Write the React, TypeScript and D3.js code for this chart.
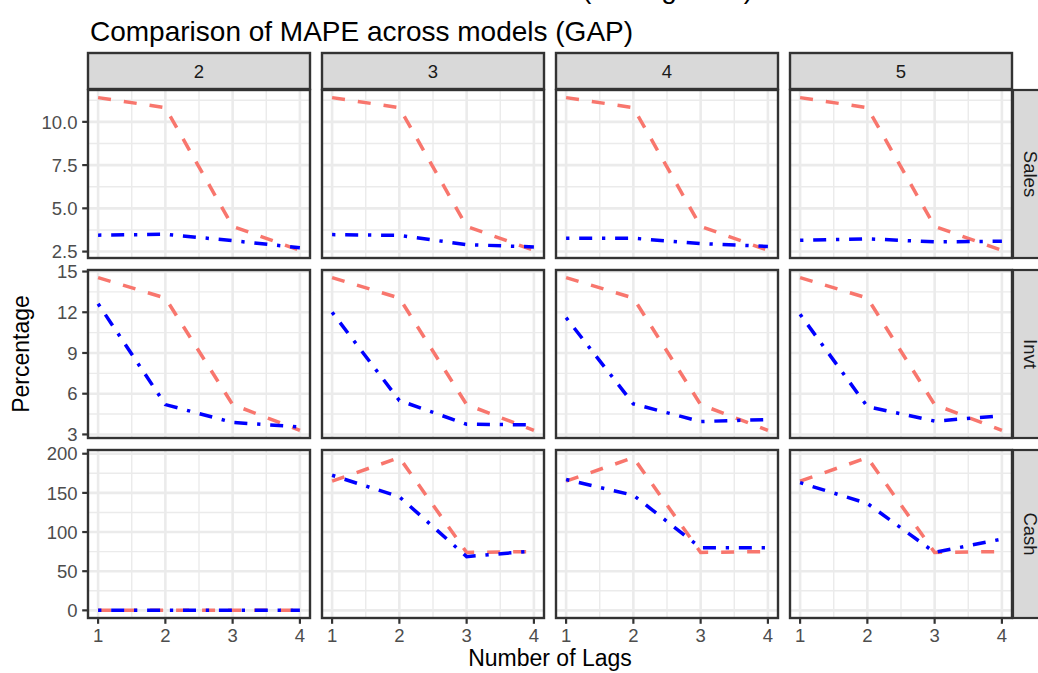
import React from 'react';
import * as d3 from 'd3';

// ---- data ----
const lags = [1, 2, 3, 4];
const lagColumns = ['2', '3', '4', '5'];
const variables = ['Sales', 'Invt', 'Cash'];

// baseline model (red, dashed) – one array per facet column
const salesRed = [
  [11.4, 10.82, 3.96, 2.57],
  [11.4, 10.82, 3.96, 2.57],
  [11.4, 10.82, 3.96, 2.57],
  [11.4, 10.82, 3.96, 2.57],
];
const invtRed = [
  [14.55, 13.05, 5.2, 3.3],
  [14.55, 13.05, 5.2, 3.3],
  [14.55, 13.05, 5.2, 3.3],
  [14.55, 13.05, 5.2, 3.3],
];
const cashRed = [
  [0, 0, 0, 0],
  [165, 195, 74, 75],
  [165, 195, 74, 75],
  [165, 195, 74, 75],
];

// GAP model (blue, dot-dash)
const salesBlue = [
  [3.45, 3.5, 3.13, 2.72],
  [3.48, 3.44, 2.9, 2.77],
  [3.27, 3.27, 2.96, 2.8],
  [3.15, 3.24, 3.06, 3.1],
];
const invtBlue = [
  [12.63, 5.2, 3.88, 3.55],
  [12.0, 5.5, 3.75, 3.7],
  [11.6, 5.25, 3.95, 4.1],
  [11.85, 5.05, 3.98, 4.37],
];
const cashBlue = [
  [0, 0, 0, 0],
  [172.5, 145, 68.6, 76],
  [167, 147, 80, 80],
  [163, 136.5, 74, 91],
];

const salesTicks = [2.5, 5, 7.5, 10];
const invtTicks = [3, 6, 9, 12, 15];
const cashTicks = [0, 50, 100, 150, 200];
const xTicks = [1, 2, 3, 4];

const redByRow = [salesRed, invtRed, cashRed];
const blueByRow = [salesBlue, invtBlue, cashBlue];
const ticksByRow = [salesTicks, invtTicks, cashTicks];
const tickFormatByRow = [(v: number) => v.toFixed(1), (v: number) => String(v), (v: number) => String(v)];

// ---- layout ----
const W = 1038;
const H = 673;
const panelLeft = 88;
const panelW = 222;
const panelGapX = 12;
const panelTop = 90;
const panelH = 168;
const panelGapY = 12;
const stripH = 36;
const FONT = '"Liberation Sans", Arial, Helvetica, sans-serif';
const RED = '#F8766D';
const BLUE = '#0000FF';
const GRID = '#EBEBEB';
const DARK = '#333333';
const TEXT = '#4D4D4D';

function expand(ext: [number, number], mult = 0.05): [number, number] {
  const r = ext[1] - ext[0];
  return [ext[0] - r * mult, ext[1] + r * mult];
}

function minorBreaks(ticks: number[], domain: [number, number]) {
  const step = ticks[1] - ticks[0];
  const out: number[] = [];
  for (let v = ticks[0] - step / 2; v <= ticks[ticks.length - 1] + step / 2 + 1e-9; v += step) {
    if (v >= domain[0] && v <= domain[1]) out.push(v);
  }
  return out;
}

export default function App() {
  const xDomain = expand(d3.extent(lags) as [number, number]);

  const panels: React.ReactNode[] = [];
  const axes: React.ReactNode[] = [];

  variables.forEach((v, ri) => {
    const all = [...redByRow[ri].flat(), ...blueByRow[ri].flat()];
    const yDomain = expand(d3.extent(all) as [number, number]);
    const y0 = panelTop + ri * (panelH + panelGapY);
    const y = d3.scaleLinear().domain(yDomain).range([y0 + panelH, y0]);
    const ticks = ticksByRow[ri];
    const yMinor = minorBreaks(ticks, yDomain);

    // y axis on the first column
    axes.push(
      <g key={'yax' + ri}>
        {ticks.map((t) => (
          <g key={t}>
            <line x1={panelLeft - 5.8} x2={panelLeft} y1={y(t)} y2={y(t)} stroke={DARK} strokeWidth={2.2} />
            <text x={panelLeft - 10.5} y={y(t)} dy="0.36em" textAnchor="end" fontSize={18.5} fill={TEXT} fontFamily={FONT}>
              {tickFormatByRow[ri](t)}
            </text>
          </g>
        ))}
      </g>
    );

    // right strip
    const stripX = panelLeft + 4 * panelW + 3 * panelGapX;
    axes.push(
      <g key={'rs' + ri}>
        <rect x={stripX + 1} y={y0} width={stripH} height={panelH} fill="#D9D9D9" stroke={DARK} strokeWidth={2.2} />
        <text
          transform={`translate(${stripX + 1 + stripH / 2},${y0 + panelH / 2}) rotate(90)`}
          textAnchor="middle"
          dy="0.36em"
          fontSize={18.5}
          fill="#1A1A1A"
          fontFamily={FONT}
        >
          {v}
        </text>
      </g>
    );

    lagColumns.forEach((c, ci) => {
      const x0 = panelLeft + ci * (panelW + panelGapX);
      const x = d3.scaleLinear().domain(xDomain).range([x0, x0 + panelW]);
      const xMinor = minorBreaks(xTicks, xDomain);
      const line = d3
        .line<number>()
        .x((_, i) => x(lags[i]))
        .y((d) => y(d));

      panels.push(
        <g key={`p${ri}-${ci}`}>
          <rect x={x0} y={y0} width={panelW} height={panelH} fill="#FFFFFF" />
          {yMinor.map((t) => (
            <line key={'ym' + t} x1={x0} x2={x0 + panelW} y1={y(t)} y2={y(t)} stroke={GRID} strokeWidth={1.4} />
          ))}
          {xMinor.map((t) => (
            <line key={'xm' + t} x1={x(t)} x2={x(t)} y1={y0} y2={y0 + panelH} stroke={GRID} strokeWidth={1.4} />
          ))}
          {ticks.map((t) => (
            <line key={'yM' + t} x1={x0} x2={x0 + panelW} y1={y(t)} y2={y(t)} stroke={GRID} strokeWidth={2.6} />
          ))}
          {xTicks.map((t) => (
            <line key={'xM' + t} x1={x(t)} x2={x(t)} y1={y0} y2={y0 + panelH} stroke={GRID} strokeWidth={2.6} />
          ))}
          <path d={line(redByRow[ri][ci]) || ''} fill="none" stroke={RED} strokeWidth={3.5} strokeDasharray="13 13" />
          <path d={line(blueByRow[ri][ci]) || ''} fill="none" stroke={BLUE} strokeWidth={3.5} strokeDasharray="3.3 9.8 13 9.8" />
          <rect x={x0} y={y0} width={panelW} height={panelH} fill="none" stroke={DARK} strokeWidth={2.4} />
        </g>
      );

      if (ri === 0) {
        axes.push(
          <g key={'ts' + ci}>
            <rect x={x0} y={y0 - stripH - 1} width={panelW} height={stripH} fill="#D9D9D9" stroke={DARK} strokeWidth={2.4} />
            <text x={x0 + panelW / 2} y={y0 - 1 - stripH / 2} dy="0.36em" textAnchor="middle" fontSize={18.5} fill="#1A1A1A" fontFamily={FONT}>
              {c}
            </text>
          </g>
        );
      }
      if (ri === variables.length - 1) {
        const yb = y0 + panelH;
        axes.push(
          <g key={'xax' + ci}>
            {xTicks.map((t) => (
              <g key={t}>
                <line x1={x(t)} x2={x(t)} y1={yb} y2={yb + 5.8} stroke={DARK} strokeWidth={2.2} />
                <text x={x(t)} y={yb + 24} textAnchor="middle" fontSize={18.5} fill={TEXT} fontFamily={FONT}>
                  {t}
                </text>
              </g>
            ))}
          </g>
        );
      }
    });
  });

  const centerX = panelLeft + (4 * panelW + 3 * panelGapX) / 2;
  const centerY = panelTop + (3 * panelH + 2 * panelGapY) / 2;

  return (
    <svg width={W} height={H} style={{ position: 'absolute', left: 0, top: 0, background: '#FFFFFF' }}>
      <rect width={W} height={H} fill="#FFFFFF" />
      <text x={582} y={-2} fontSize={28} fill="#000000" fontFamily={FONT}>(Rolling Data)</text>
      <text x={90} y={41} fontSize={28} fill="#000000" fontFamily={FONT}>
        Comparison of MAPE across models (GAP)
      </text>
      {panels}
      {axes}
      <text x={centerX} y={666} textAnchor="middle" fontSize={23} fill="#000000" fontFamily={FONT}>
        Number of Lags
      </text>
      <text transform={`translate(28.5,${centerY}) rotate(-90)`} textAnchor="middle" fontSize={23} fill="#000000" fontFamily={FONT}>
        Percentage
      </text>
    </svg>
  );
}
